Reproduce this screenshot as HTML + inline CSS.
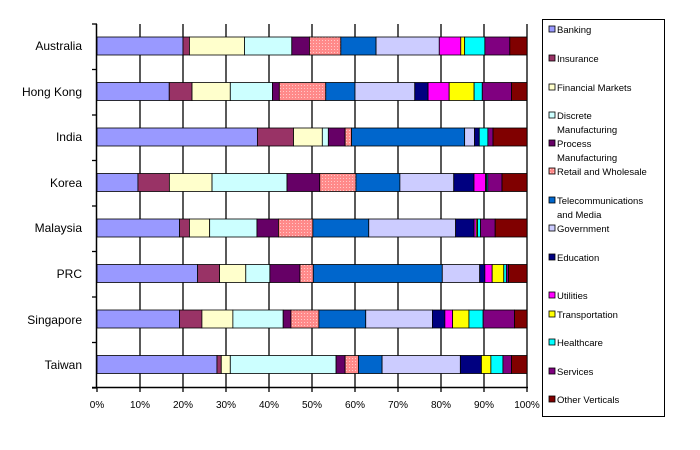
<!DOCTYPE html>
<html><head><meta charset="utf-8"><style>
html,body{margin:0;padding:0;background:#fff;}
svg{display:block;font-family:"Liberation Sans",Arial,sans-serif;}
</style></head><body>
<svg id="s" width="700" height="450" viewBox="0 0 700 450">
<defs>
<pattern id="dots" width="3" height="3" patternUnits="userSpaceOnUse">
<rect width="3" height="3" fill="#ff8a8a"/><rect x="1" y="1" width="1" height="1" fill="#ffc8c8"/>
</pattern>
</defs>
<g id="grid" stroke="#000" stroke-width="1.3"></g>
<g id="bars"></g>
<g stroke="#000" stroke-width="1.5">
<line x1="96.5" y1="24" x2="96.5" y2="388"/>
<line x1="92" y1="387.5" x2="528" y2="387.5"/>
</g>
<g font-size="12" text-anchor="end" fill="#000">
<text x="82" y="50">Australia</text>
<text x="82" y="96">Hong Kong</text>
<text x="82" y="141">India</text>
<text x="82" y="187">Korea</text>
<text x="82" y="232">Malaysia</text>
<text x="82" y="278">PRC</text>
<text x="82" y="324">Singapore</text>
<text x="82" y="369">Taiwan</text>
</g>
<g font-size="10" text-anchor="middle" fill="#000">
<text x="97" y="408">0%</text><text x="140" y="408">10%</text><text x="183" y="408">20%</text>
<text x="226" y="408">30%</text><text x="269" y="408">40%</text><text x="312" y="408">50%</text>
<text x="355" y="408">60%</text><text x="398" y="408">70%</text><text x="441" y="408">80%</text>
<text x="484" y="408">90%</text><text x="527" y="408">100%</text>
</g>
<rect x="542.5" y="19.5" width="122" height="397" fill="#fff" stroke="#000" stroke-width="1"/>
<g id="leg" font-size="9.5" fill="#000">
<text x="557" y="33">Banking</text>
<text x="557" y="62">Insurance</text>
<text x="557" y="91">Financial Markets</text>
<text x="557" y="119">Discrete</text><text x="557" y="133">Manufacturing</text>
<text x="557" y="147">Process</text><text x="557" y="161">Manufacturing</text>
<text x="557" y="175">Retail and Wholesale</text>
<text x="557" y="204">Telecommunications</text><text x="557" y="218">and Media</text>
<text x="557" y="232">Government</text>
<text x="557" y="261">Education</text>
<text x="557" y="299">Utilities</text>
<text x="557" y="318">Transportation</text>
<text x="557" y="346">Healthcare</text>
<text x="557" y="375">Services</text>
<text x="557" y="403">Other Verticals</text>
</g>
</svg>
<script>
var C=["#9999ff","#993366","#ffffcc","#ccffff","#660066","url(#dots)","#0066cc","#ccccff","#000080","#ff00ff","#ffff00","#00ffff","#800080","#800000"];
var D=[
[20,1.5,12.8,11,4.1,7.3,8.2,14.7,0,5,0.9,4.7,5.8,4],
[16.8,5.3,8.9,9.8,1.6,10.8,6.8,13.9,3.1,4.9,5.8,1.9,6.8,3.6],
[37.3,8.4,6.7,1.4,3.9,1.5,26.3,2.3,1.1,0,0,2.0,1.2,7.9],
[9.5,7.3,9.9,17.4,7.6,8.4,10.2,12.5,4.7,2.7,0.2,0.3,3.3,5.8],
[19.2,2.3,4.7,11,5,8,13,20.2,4.3,0.5,0.3,0.7,3.4,7.4],
[23.4,5.1,6.1,5.6,7,3.1,30,8.7,1.2,1.7,2.7,0.6,0.5,4.3],
[19.2,5.2,7.2,11.7,1.8,6.5,10.9,15.5,2.9,1.8,3.8,3.3,7.3,2.9],
[27.9,1,2.1,24.6,2.1,3.1,5.5,18.2,4.9,0,2.2,2.8,2,3.6]];
var NS="http://www.w3.org/2000/svg";
function el(t,a,p){var e=document.createElementNS(NS,t);for(var k in a)e.setAttribute(k,a[k]);p.appendChild(e);return e;}
var g=document.getElementById("grid");
for(var i=1;i<=10;i++){var x=97+43*i;el("line",{x1:x,y1:24,x2:x,y2:392},g);}
el("line",{x1:96,y1:24,x2:97+430,y2:24,"stroke-width":"0"},g);
for(var j=0;j<=8;j++){var y=24+45.5*j;el("line",{x1:92,y1:y,x2:97,y2:y},g);}
el("line",{x1:97,y1:387,x2:97,y2:392},g);
var b=document.getElementById("bars");
D.forEach(function(r,ri){var tot=r.reduce(function(a,c){return a+c},0);var x=97,y=37+45.5*ri;
r.forEach(function(v,ci){if(v<=0)return;var w=v/tot*430;el("rect",{x:x,y:y,width:w,height:18,fill:C[ci],stroke:"#000","stroke-width":"0.8"},b);x+=w;});});
var L=[30,59,88,116,144,172,201,229,258,296,315,343,372,400];
var lg=document.getElementById("leg");
L.forEach(function(y,i){el("rect",{x:549,y:y-4,width:6,height:6,fill:C[i],stroke:"#000","stroke-width":"0.8"},lg);});
</script>
</body></html>
